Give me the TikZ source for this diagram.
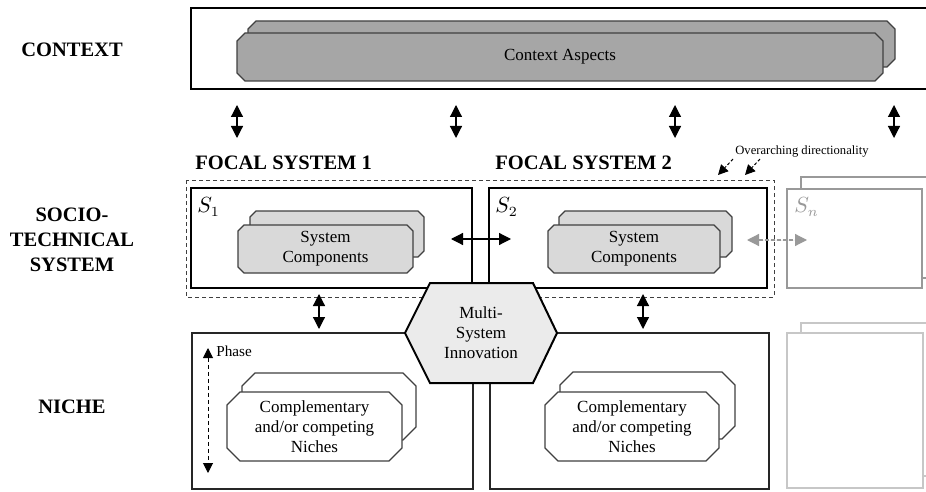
\documentclass[tikz,border=0pt]{standalone}
\usepackage{fontspec}
\setmainfont{Liberation Serif}
\usetikzlibrary{arrows.meta}

% chamfered box: style, left, top, right, bottom, chamfer
\newcommand{\chambox}[6]{\draw[#1] ({#2+#6},#3) -- ({#4-#6},#3) -- (#4,{#3+#6}) -- (#4,{#5-#6})
  -- ({#4-#6},#5) -- ({#2+#6},#5) -- (#2,{#5-#6}) -- (#2,{#3+#6}) -- cycle;}

\begin{document}
\begin{tikzpicture}[x=0.5pt, y=-0.5pt,
  layer/.style = {inner sep=0pt, align=center, font=\fontsize{10.25}{12.5}\selectfont\bfseries},
  sysbox/.style = {draw, line width=1pt, fill=white},
  nichebox/.style = {draw=black!85, line width=0.7pt, fill=white},
  part/.style = {draw=black!75, line width=0.6pt, fill=black!15},
  ctxpart/.style = {part, fill=black!35},
  nichepart/.style = {part, fill=white},
  parttext/.style = {inner sep=0pt, align=center, font=\fontsize{8.5}{10}\selectfont},
  dbl/.style = {{Triangle[length=6pt,width=6pt]}-{Triangle[length=6pt,width=6pt]}, line width=0.6pt},
  slabel/.style = {anchor=west, inner sep=0pt, font=\fontsize{10.5}{10.5}\selectfont}]
\path[use as bounding box] (0,0) rectangle (926,492);
\clip (0,0) rectangle (926,492);

%% layer labels
\node[layer] (ctx) at (72,50) {CONTEXT};
\node[layer] (sts) at (72,240) {SOCIO-\\TECHNICAL\\SYSTEM};
\node[layer] (nic) at (72,407) {NICHE};
\node[layer, anchor=west] (fs1) at (195,163) {FOCAL SYSTEM 1};
\node[layer, anchor=west] (fs2) at (495,163) {FOCAL SYSTEM 2};

%% context
\draw[line width=1pt] (191,8) rectangle (940,89);
\chambox{ctxpart}{248}{21}{895}{67}{8}
\chambox{ctxpart}{237}{33}{883}{81}{8}
\node[parttext] (ca) at (560,57) {Context Aspects};

%% socio-technical systems
\draw[draw=black!75, line width=0.5pt, dash pattern=on 2pt off 1.5pt] (186,180) rectangle (774,297);
\draw[sysbox] (191,188) rectangle (472,288);
\draw[sysbox] (489,188) rectangle (767,288);
\node[slabel] (s1) at (197,207) {$S_1$};
\node[slabel] (s2) at (495,207) {$S_2$};
\chambox{part}{250}{211}{424}{257}{6}
\chambox{part}{238}{225}{413}{273}{6}
\node[parttext] (sc1) at (325.5,249) {System\\Components};
\chambox{part}{559}{211}{732}{257}{6}
\chambox{part}{548}{225}{720}{273}{6}
\node[parttext] (sc2) at (634,249) {System\\Components};
\draw[draw=black!40, line width=0.8pt, fill=white] (801,177) rectangle (940,278);
\draw[draw=black!40, line width=0.8pt, fill=white] (787,189) rectangle (922,288);
\node[slabel, text=black!40] (sn) at (794,207) {$S_n$};

%% niches
\draw[nichebox] (192,333) rectangle (473,489);
\draw[nichebox] (490,333) rectangle (769,489);
\chambox{nichepart}{242}{373}{416}{440}{13}
\chambox{nichepart}{227}{392}{402}{461}{13}
\node[parttext] (n1) at (314.5,426.5) {Complementary\\and/or competing\\Niches};
\chambox{nichepart}{560}{372}{735}{439}{13}
\chambox{nichepart}{545}{392}{719}{461}{13}
\node[parttext] (n2) at (632,426.5) {Complementary\\and/or competing\\Niches};
\draw[draw=black!22, line width=0.7pt, fill=white] (801,323) rectangle (940,476);
\draw[draw=black!22, line width=0.7pt, fill=white] (787,333) rectangle (923,488);

%% multi-system innovation
\draw[line width=1pt, fill=black!8] (405,333) -- (430,283) -- (533,283) -- (557,333)
  -- (533,383) -- (430,383) -- cycle;
\node[parttext] (msi) at (481,333) {Multi-\\System\\Innovation};

%%% arrows
\foreach \x [count=\i] in {237,456,675,894} {
  \coordinate (up\i) at (\x,105);
  \coordinate (dn\i) at (\x,138);
  \draw[dbl] (up\i) -- (dn\i);
}
\coordinate (a1) at (319,294); \coordinate (b1) at (319,329);
\coordinate (a2) at (643,294); \coordinate (b2) at (643,329);
\draw[dbl] (a1) -- (b1);
\draw[dbl] (a2) -- (b2);
\coordinate (l1) at (451,239); \coordinate (r1) at (511,239);
\draw[dbl] (l1) -- (r1);
\coordinate (l2) at (747,240); \coordinate (r2) at (807,240);
\draw[dbl, draw=black!40, fill=black!40, dash pattern=on 2pt off 1pt] (l2) -- (r2);

%% phase
\coordinate (ph1) at (208,348); \coordinate (ph2) at (208,473);
\draw[{Triangle[length=5pt,width=5pt]}-{Triangle[length=5pt,width=5pt]}, line width=0.5pt,
  dash pattern=on 2pt off 1.5pt] (ph1) -- (ph2);
\node[anchor=west, inner sep=0pt, font=\fontsize{7.6}{8}\selectfont] (ph) at (216,351) {Phase};

%% directionality
\node[font=\fontsize{6.3}{7}\selectfont, inner sep=0pt] (dir) at (802,151) {Overarching directionality};
\coordinate (d1) at (718,175); \coordinate (d2) at (745,175);
\draw[-{Triangle[length=5pt,width=5pt]}, line width=0.5pt, dash pattern=on 1.5pt off 1pt] (733,159) -- (d1);
\draw[-{Triangle[length=5pt,width=5pt]}, line width=0.5pt, dash pattern=on 1.5pt off 1pt] (760,159) -- (d2);

\end{tikzpicture}
\end{document}
